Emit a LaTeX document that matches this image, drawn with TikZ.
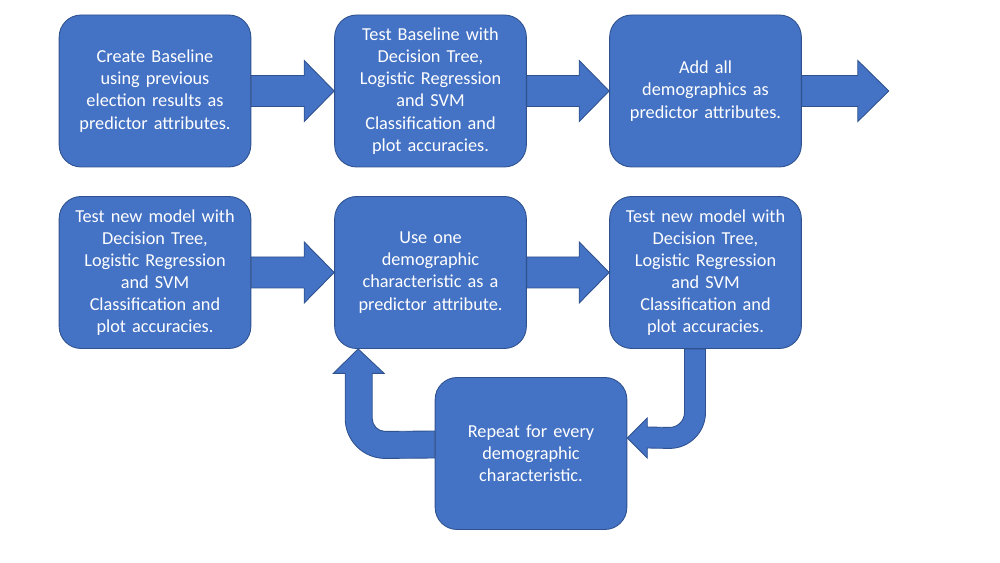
\documentclass[tikz,border=0pt]{standalone}
\usepackage{fontspec}
\setmainfont{Carlito}
\usepackage{xcolor}
\usepackage{tikz}
\usetikzlibrary{calc,backgrounds}
\definecolor{stepblue}{RGB}{68,114,196}
\definecolor{stepedge}{RGB}{47,82,143}

% straight block arrow from the east side of #1 to the west side of #2
\newcommand{\blockarrow}[2]{%
  \draw[blockarr] ($(#1.east)+(0,0.31)$) -- ($(#2.west)+(-0.6,0.31)$)
    -- ($(#2.west)+(-0.6,0.61)$) -- (#2.west) -- ($(#2.west)+(-0.6,-0.61)$)
    -- ($(#2.west)+(-0.6,-0.31)$) -- ($(#1.east)+(0,-0.31)$) -- cycle;}

\begin{document}
\begin{tikzpicture}[
    stepbox/.style={draw=stepedge, fill=stepblue, line width=0.5pt,
                    rounded corners=0.44cm, minimum width=3.74cm,
                    minimum height=3.04cm, text width=3.6cm, align=center,
                    text=white, font=\fontsize{10.4}{12.6}\selectfont},
    blockarr/.style={draw=stepedge, fill=stepblue, line width=0.5pt}]
  \useasboundingbox (0,0) rectangle (20,11.26);
  % row 1
  \node[stepbox] (b1) at (3.10,9.44)
       {Create Baseline\\using previous\\election results as\\predictor attributes.};
  \node[stepbox] (b2) at (8.61,9.44)
       {Test Baseline with\\Decision Tree,\\Logistic Regression\\and SVM\\Classification and\\plot accuracies.};
  \node[stepbox] (b3) at (14.11,9.44)
       {Add all\\demographics as\\predictor attributes.};
  % row 2
  \node[stepbox] (b4) at (3.10,5.81)
       {Test new model with\\Decision Tree,\\Logistic Regression\\and SVM\\Classification and\\plot accuracies.};
  \node[stepbox] (b5) at (8.61,5.81)
       {Use one\\demographic\\characteristic as a\\predictor attribute.};
  \node[stepbox] (b6) at (14.11,5.81)
       {Test new model with\\Decision Tree,\\Logistic Regression\\and SVM\\Classification and\\plot accuracies.};
  % row 3
  \node[stepbox] (b7) at (10.62,2.19)
       {Repeat for every\\demographic\\characteristic.};
  \coordinate (out) at ($(b3.east)+(1.74,0)$);
  \coordinate (rtip) at ($(b7.east)+(0,0.31)$);
  \coordinate (ltip) at ($(b5.south west)+(0.48,0)$);

  \begin{scope}[on background layer]
    \blockarrow{b1}{b2}
    \blockarrow{b2}{b3}
    \draw[blockarr] ($(b3.east)+(0,0.31)$) -- ($(out)+(-0.62,0.31)$)
      -- ($(out)+(-0.62,0.61)$) -- (out) -- ($(out)+(-0.62,-0.61)$)
      -- ($(out)+(-0.62,-0.31)$) -- ($(b3.east)+(0,-0.31)$) -- cycle;
    \blockarrow{b4}{b5}
    \blockarrow{b5}{b6}
    % loop back: b6 down to b7, then b7 up to b5
    \draw[blockarr] (b6.south) -- ++(0,-1.27)
      arc[start angle=0, end angle=-90, radius=0.72]
      -- ($(rtip)+(0.4,-0.2)$) -- ($(rtip)+(0.4,-0.4)$) -- (rtip)
      -- ($(rtip)+(0.4,0.4)$) -- ($(rtip)+(0.4,0.22)$)
      -- ($(b6.south)+(-0.72,-1.57)$)
      arc[start angle=-90, end angle=0, radius=0.3]
      -- ($(b6.south)+(-0.42,0)$) -- cycle;
    \draw[blockarr] ($(b7.west)+(0,0.45)$) -- ($(ltip)+(0.54,-1.65)$)
      arc[start angle=-90, end angle=-180, radius=0.26]
      -- ($(ltip)+(0.28,-0.49)$) -- ($(ltip)+(0.52,-0.49)$) -- (ltip)
      -- ($(ltip)+(-0.50,-0.49)$) -- ($(ltip)+(-0.26,-0.49)$)
      -- ($(ltip)+(-0.26,-1.39)$)
      arc[start angle=180, end angle=270, radius=0.8]
      -- ($(b7.west)+(0,-0.09)$) -- cycle;
  \end{scope}
\end{tikzpicture}
\end{document}
